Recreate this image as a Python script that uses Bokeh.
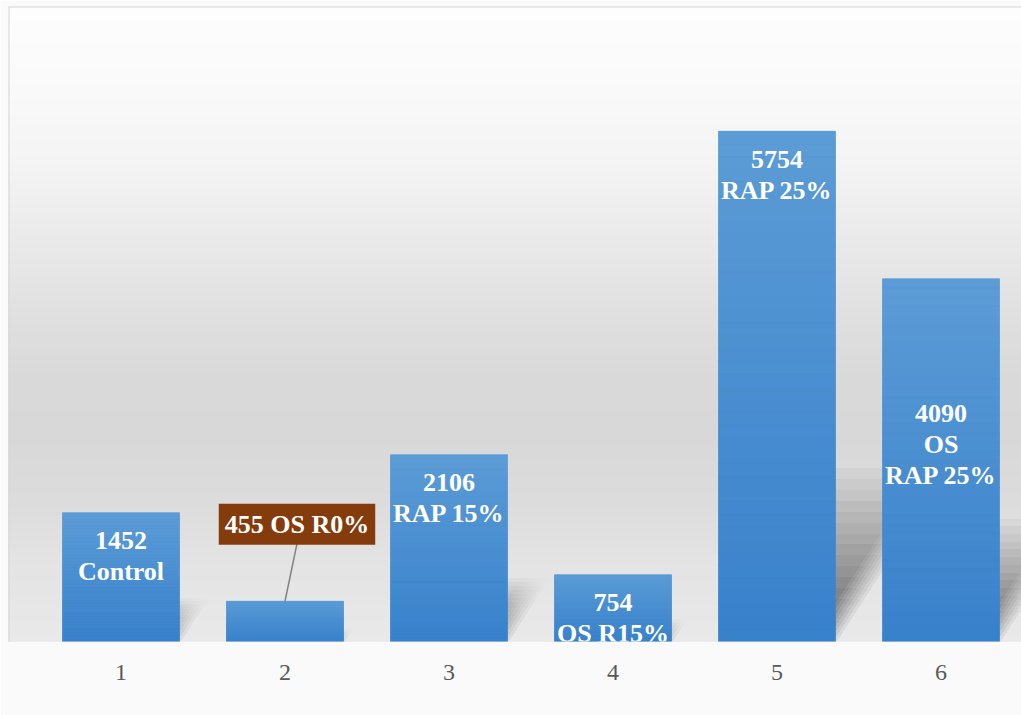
import numpy as np
from bokeh.plotting import figure
from bokeh.models import Range1d, FixedTicker, Label, Span, ColumnDataSource
from bokeh.core.properties import value
from bokeh.embed import file_html
from bokeh.resources import INLINE

# ---------------- data ----------------
categories = ["1", "2", "3", "4", "5", "6"]
values = [1452, 455, 2106, 754, 5754, 4090]
label_names = ["Control", "OS R0%", "RAP 15%", "OS R15%", "RAP 25%", "OS\nRAP 25%"]
label_place = ["end", "callout", "end", "end", "end", "center"]

# ---------------- geometry (style) ----------------
FRAME_L, FRAME_T, FRAME_W, FRAME_H, BOTTOM = 8, 6, 1013, 635, 74
PX_X = 164.0                     # pixels per category
PX_Y = 510.3 / 5754.0            # pixels per unit
BAR_W = 117.0 / PX_X
x_start = 1 - (120.5 - FRAME_L) / PX_X
x_end = x_start + FRAME_W / PX_X
y_end = FRAME_H / PX_Y

xs = np.arange(1, len(values) + 1, dtype=float)

p = figure(frame_width=FRAME_W, frame_height=FRAME_H,
           min_border_left=FRAME_L, min_border_top=FRAME_T,
           min_border_right=0, min_border_bottom=BOTTOM,
           x_range=Range1d(x_start, x_end), y_range=Range1d(0, y_end),
           y_axis_location=None, output_backend="svg", toolbar_location=None,
           background_fill_color="#e6e6e6", border_fill_color="#fafafa")
p.outline_line_color = None
p.xgrid.grid_line_color = None
p.ygrid.grid_line_color = None

# ---------------- background gradient (horizontal bands) ----------------
stop_sy = [6, 80, 160, 240, 320, 380, 440, 500, 560, 641]
stop_g = [253, 250, 244, 234, 223, 217, 216, 220, 227, 233]
edges = np.arange(FRAME_T, FRAME_T + FRAME_H + 1, 4, dtype=float)
if edges[-1] < FRAME_T + FRAME_H:
    edges = np.append(edges, FRAME_T + FRAME_H)
band_top = (FRAME_T + FRAME_H - edges[:-1]) / PX_Y
band_bot = (FRAME_T + FRAME_H - edges[1:]) / PX_Y
mid = (edges[:-1] + edges[1:]) / 2
gl = np.interp(mid, stop_sy, stop_g).round().astype(int)
band_col = ["#%02x%02x%02x" % (g, g, g) for g in gl]
p.quad(left=x_start, right=x_end, bottom=band_bot, top=band_top,
       fill_color=band_col, line_color=band_col, line_width=1)

# ---------------- soft perspective shadows ----------------
SH_B, SH_S = 0.34, 0.65
sh_xs, sh_ys = [], []
for x, v in zip(xs, values):
    xl, xr = x - BAR_W / 2, x + BAR_W / 2
    h_px = v * PX_Y
    for f in np.linspace(0.06, 1.0, 16):
        Hs = SH_B * h_px * f
        for d in np.linspace(-24, 2, 8):
            sh_xs.append([xl, xr + d / PX_X, xr + (d + SH_S * Hs) / PX_X, xl + SH_S * Hs / PX_X])
            sh_ys.append([0, 0, Hs / PX_Y, Hs / PX_Y])
p.patches(xs=sh_xs, ys=sh_ys, fill_color="black", fill_alpha=0.0045, line_color=None)

# ---------------- bars ----------------
src = ColumnDataSource(dict(x=xs, top=values, cat=categories))
p.vbar(x="x", top="top", width=BAR_W, source=src, fill_color="#4a8fd2", line_color=None)

# gradient overlay on each bar
N = 40
c_bot = np.array([0x38, 0x81, 0xcb])
c_top = np.array([0x5c, 0x9c, 0xd6])
gx, gb, gt, gc = [], [], [], []
for x, v in zip(xs, values):
    for k in range(N):
        t = (k + 0.5) / N
        c = (c_bot + (c_top - c_bot) * t).round().astype(int)
        gx.append(x)
        gb.append(v * k / N)
        gt.append(v * (k + 1) / N)
        gc.append("#%02x%02x%02x" % tuple(c))
p.vbar(x=gx, bottom=gb, top=gt, width=BAR_W, fill_color=gc, line_color=gc, line_width=0.5)

# ---------------- data labels ----------------
lx, ly, lt = [], [], []
for x, v, name, pl in zip(xs, values, label_names, label_place):
    if pl == "end":
        lx.append(x); ly.append(v - 43.5 / PX_Y); lt.append(f"{v}\n{name}")
    elif pl == "center":
        lx.append(x); ly.append(v / 2 + 15.5 / PX_Y); lt.append(f"{v}\n{name}")
p.text(x=lx, y=ly, text=lt, text_align="center", text_baseline="middle",
       text_color="white", text_font=value("Liberation Serif"), text_font_style="bold",
       text_font_size="26px", text_line_height=1.08)

# callout label for bar 2
for x, v, name, pl in zip(xs, values, label_names, label_place):
    if pl == "callout":
        cx = x + 12 / PX_X
        cy = v + 77 / PX_Y
        p.segment(x0=[x], y0=[v], x1=[cx], y1=[v + 57.5 / PX_Y],
                  line_color="#808080", line_width=1.5)
        p.add_layout(Label(x=cx, y=cy, text=f"{v} {name}", text_align="center",
                           text_baseline="middle", text_color="white",
                           text_font="Liberation Serif", text_font_style="bold",
                           text_font_size="26px", background_fill_color="#843c0c",
                           padding=6))

# ---------------- chart border (left / top) ----------------
p.add_layout(Span(location=x_start, dimension="height", line_color="#d6d6d6", line_width=2))
p.add_layout(Span(location=y_end, dimension="width", line_color="#d6d6d6", line_width=2))

# ---------------- axis ----------------
ax = p.xaxis[0]
ax.ticker = FixedTicker(ticks=list(xs))
ax.major_label_overrides = {float(x): c for x, c in zip(xs, categories)}
ax.major_label_overrides.update({int(x): c for x, c in zip(xs, categories)})
ax.axis_line_color = None
ax.major_tick_line_color = None
ax.minor_tick_line_color = None
ax.major_label_standoff = 17
ax.major_label_text_font = "Liberation Serif"
ax.major_label_text_font_size = "24px"
ax.major_label_text_color = "#595959"

open("out.html", "w").write(file_html(p, INLINE))
